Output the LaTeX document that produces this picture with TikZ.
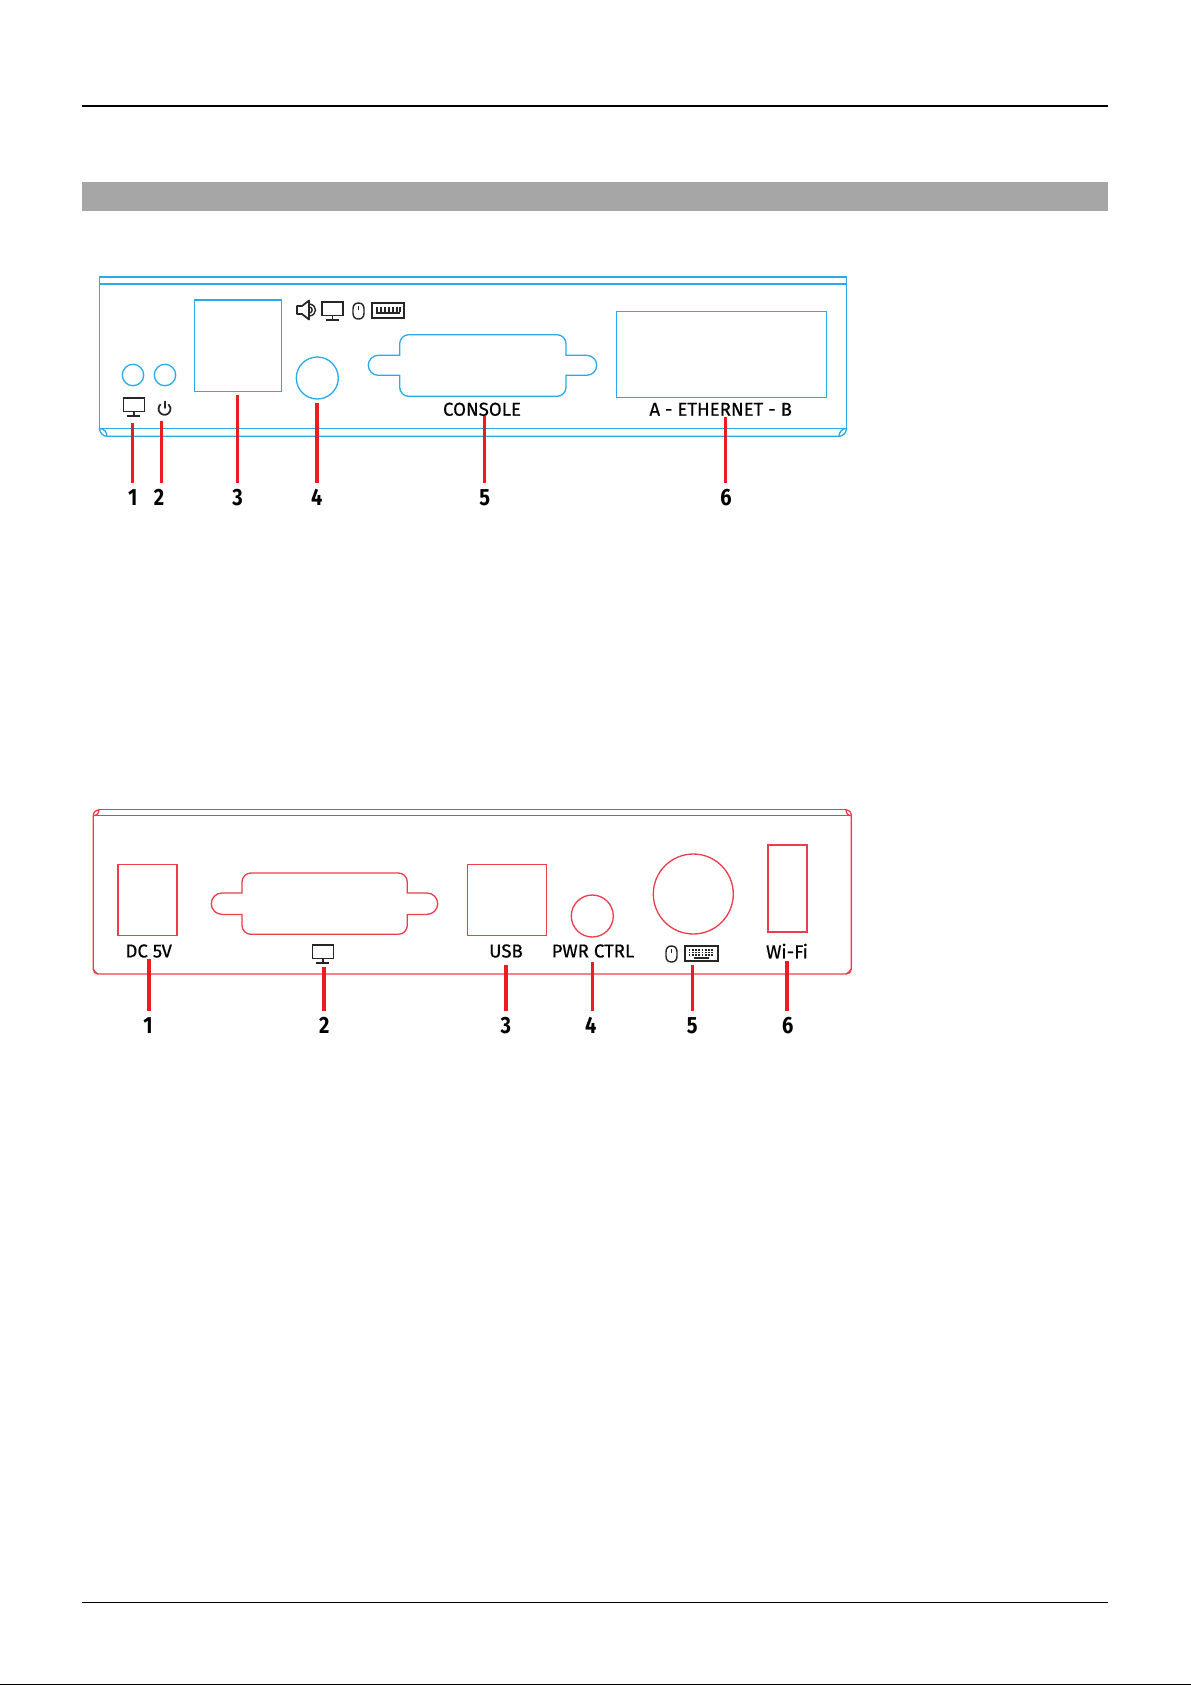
\documentclass[tikz,border=0pt]{standalone}
\usepackage{fontspec}
\setmainfont{Fira Sans}
\usetikzlibrary{positioning, calc}
\definecolor{my_blue}{RGB}{41, 171, 235}
\definecolor{my_red}{RGB}{237, 60, 75}
\definecolor{my_leader}{RGB}{237, 28, 36}
\definecolor{my_gray}{RGB}{166, 166, 166}
\tikzset {
  rule/.style = {draw=black, line width=0.8pt},
  blueport/.style = {draw=my_blue, line width=0.75pt, inner sep=0, outer sep=0},
  redport/.style = {draw=my_red, line width=0.75pt, inner sep=0, outer sep=0},
  leader/.style = {-, draw=my_leader, line width=1.9pt},
  plate/.style = {inner sep=0, outer sep=0, font=\fontsize{10.6pt}{12pt}\selectfont\addfontfeatures{FakeBold=0.5}},
  num/.style = {inner sep=0, outer sep=0.16cm, text height=0.3cm, text depth=0, font=\fontsize{13.4pt}{15pt}\selectfont\bfseries\addfontfeatures{FakeStretch=0.85}},
  icon/.style = {draw=black!85, line width=0.8pt},
  monitorpic/.pic = {
    \draw[icon] (0,0) rectangle (21,13.5);
    \draw[icon] (10.5,13.5) -- (10.5,18) (4,18) -- (17,18);
  },
  mousepic/.pic = {
    \draw[icon] (5.5,0) .. controls (2,0) and (0,2) .. (0,6) -- (0,10) .. controls (0,14) and (2,16) .. (5.5,16)
      .. controls (9,16) and (11,14) .. (11,10) -- (11,6) .. controls (11,2) and (9,0) .. (5.5,0) -- cycle;
    \draw[icon] (5.5,3) -- (5.5,6.5);
  },
  keyspic/.pic = {
    \draw[icon, line width=1pt] (0,0) rectangle (32,15);
    \foreach \k in {5,9,13,17,21,25,28} {
      \draw[icon, line width=0.9pt] (\k,3.5) -- (\k,9);
    }
    \draw[icon] (4,10) -- (28,10);
  },
  gridkeyspic/.pic = {
    \draw[icon, line width=1pt] (0,0) rectangle (33,15);
    \foreach \r in {4,6.5,9} {
      \draw[icon, line width=0.9pt, dash pattern=on 1.1pt off 0.75pt] (3.5,\r) -- (29.5,\r);
    }
    \draw[icon] (9,12) -- (24,12);
  }
}
% #1 left tip, #2 body left, #3 body right, #4 right tip, #5 top, #6 bottom, #7 lobe centre, #8 lobe radius
\newcommand{\dsubport}[8]{
  ({#2},{#7-#8}) -- ({#1+#8},{#7-#8}) arc[start angle=-90, end angle=-270, radius=#8]
  -- ({#2},{#7+#8}) -- ({#2},{#6-9}) arc[start angle=180, end angle=90, radius=9]
  -- ({#3-9},#6) arc[start angle=90, end angle=0, radius=9]
  -- ({#3},{#7+#8}) -- ({#4-#8},{#7+#8}) arc[start angle=90, end angle=-90, radius=#8]
  -- ({#3},{#7-#8}) -- ({#3},{#5+9}) arc[start angle=0, end angle=-90, radius=9]
  -- ({#2+9},#5) arc[start angle=-90, end angle=-180, radius=9] -- cycle
}

\begin{document}
\begin{tikzpicture}[x=0.02cm, y=-0.02cm]
    \useasboundingbox (0,0) rectangle (1191,1685);

    % page furniture
    \coordinate (topl) at (82,106);
    \coordinate (topr) at (1108,106);
    \coordinate (botl) at (82,1602.3);
    \coordinate (botr) at (1108,1602.3);
    \coordinate (edgel) at (0,1684.4);
    \coordinate (edger) at (1191,1684.4);
    \draw[rule] (topl) -- (topr);
    \draw[rule] (botl) -- (botr);
    \draw[rule] (edgel) -- (edger);
    \node[fill=my_gray, minimum width=20.52cm, minimum height=0.57cm, inner sep=0] (titlebar) at (595,196.3) {};

    % blue panel
    \draw[blueport] (99.3,428.3) -- (99.3,277) -- (846.7,277) -- (846.7,428.3);
    \draw[blueport] (99.3,284) -- (846.7,284);
    \draw[blueport] (99.3,428.3) -- (846.7,428.3);
    \draw[blueport] (99.3,428.3) .. controls (100,433) and (103,436.3) .. (107,436.3) -- (839,436.3)
      .. controls (843,436.3) and (846,433) .. (846.7,428.3);
    \draw[blueport] (99.3,428.3) .. controls (104,428.6) and (107,432) .. (107,436.3);
    \draw[blueport] (839,436.3) .. controls (839,432) and (842,428.6) .. (846.7,428.3);

    \node[blueport, circle, minimum size=0.428cm] (led1) at (133,375) {};
    \node[blueport, circle, minimum size=0.428cm] (led2) at (165,375) {};
    \node[blueport, minimum width=1.74cm, minimum height=1.834cm] (lan) at (238.2,345.85) {};
    \node[blueport, circle, minimum size=0.84cm] (pwr) at (317.3,378) {};
    \node[blueport, minimum width=4.2cm, minimum height=1.712cm] (ether) at (721.3,354.5) {};
    \draw[blueport] \dsubport{368.3}{399.7}{566}{596.7}{334.7}{396.3}{365.3}{10};

    \node[plate] (console) at (482,409.3) {CONSOLE};
    \node[plate] (etherlabel) at (720.7,409.3) {A - ETHERNET - B};

    % icons
    \pic at (123.3,398) {monitorpic};
    \draw[icon, line width=1pt, line cap=round] (164.7,401.5) -- (164.7,408);
    \draw[icon, line width=1pt] (160.7,404.2) arc[start angle=-130, end angle=-410, radius=6];
    \draw[icon, line width=1pt, line join=round] (297,306) -- (302,306) -- (309,300.5) -- (309,319.5) -- (302,314) -- (297,314) -- cycle;
    \draw[icon] (309.5,304) .. controls (317.5,305) and (317.5,315) .. (309.5,316);
    \draw[icon] (309.5,307) .. controls (313,307.5) and (313,312.5) .. (309.5,313);
    \pic at (322,302) {monitorpic};
    \pic at (353,303) {mousepic};
    \pic at (372,303) {keyspic};

    % leaders of the blue panel
    \foreach \i/\x/\tx/\ty in {1/132.7/132.7/422.7, 2/159/161.3/420.7, 3/237.7/237.3/395, 4/316.7/317/403.3, 5/484.7/484.7/416, 6/726/725.7/417} {
      \node[num] (bn\i) at (\x,498.3) {\i};
      \coordinate (bt\i) at (\tx,\ty);
      \draw[leader] (bt\i) -- (bt\i |- bn\i.north);
    }

    % red panel
    \draw[redport] (99,809.7) -- (846,809.7);
    \draw[redport] (93.3,815.7) -- (851.3,815.7);
    \draw[redport] (99,809.7) .. controls (96,809.7) and (93.3,812) .. (93.3,815.7) -- (93.3,969)
      .. controls (93.3,972) and (95,974) .. (98,974) -- (846,974)
      .. controls (849,974) and (851.3,972) .. (851.3,969) -- (851.3,815.7)
      .. controls (851.3,812) and (849,809.7) .. (846,809.7);
    \draw[redport] (99,809.7) .. controls (99,813) and (97,815.7) .. (93.3,815.7);
    \draw[redport] (846,809.7) .. controls (846,813) and (848,815.7) .. (851.3,815.7);
    \draw[redport] (93.3,969) .. controls (94,971) and (96,973) .. (98,974);
    \draw[redport] (851.3,969) .. controls (850,971) and (848,973) .. (846,974);

    \node[redport, minimum width=1.18cm, minimum height=1.42cm] (dc) at (147.5,900.2) {};
    \draw[redport] \dsubport{211.3}{242}{407.3}{437.7}{873}{934.3}{903.7}{10.7};
    \node[redport, minimum width=1.572cm, minimum height=1.412cm] (usb) at (507,900) {};
    \node[redport, circle, minimum size=0.84cm] (ctrl) at (592.3,916) {};
    \node[redport, circle, minimum size=1.6cm] (ps2) at (693.3,894) {};
    \node[redport, minimum width=0.78cm, minimum height=1.74cm] (wifi) at (787.5,888.5) {};

    \node[plate] (dclabel) at (148.7,951) {DC 5V};
    \node[plate] (usblabel) at (506,951) {USB};
    \node[plate] (ctrllabel) at (593,951) {PWR CTRL};
    \node[plate] (wifilabel) at (787,951) {Wi-Fi};

    % icons
    \pic at (312.3,945) {monitorpic};
    \pic at (666,946) {mousepic};
    \pic at (685,946) {gridkeyspic};

    % leaders of the red panel
    \foreach \i/\x/\tx/\ty in {1/148/149/959, 2/324.3/324/967, 3/505.7/506/965, 4/590.7/592.7/962, 5/692.3/692.3/965, 6/787.7/787/961} {
      \node[num] (rn\i) at (\x,1026) {\i};
      \coordinate (rt\i) at (\tx,\ty);
      \draw[leader] (rt\i) -- (rt\i |- rn\i.north);
    }

  \end{tikzpicture}
\end{document}
